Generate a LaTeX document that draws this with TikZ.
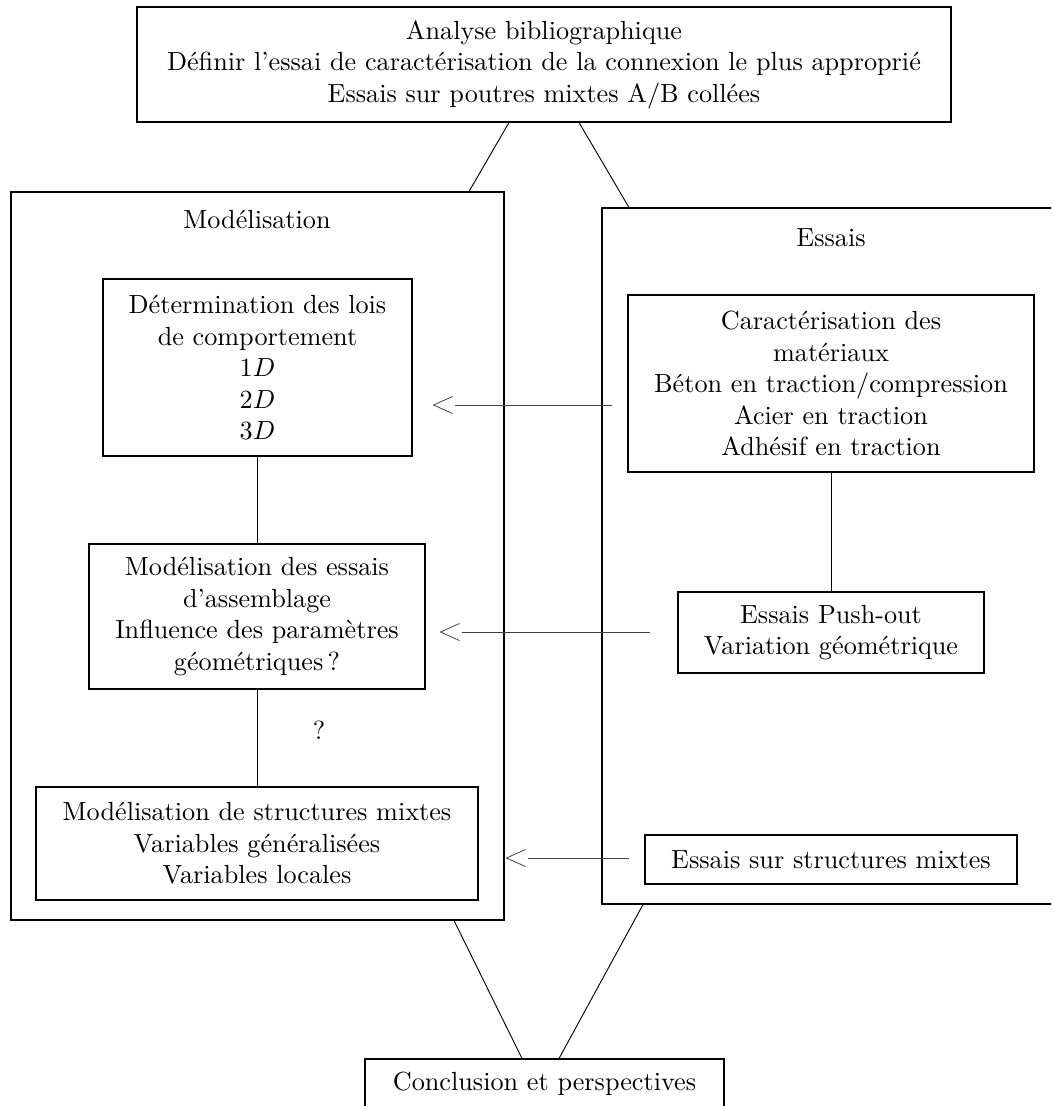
\documentclass[tikz,border=0pt]{standalone}
\usepackage{fontspec}
\usetikzlibrary{calc}
\def\u{0.3817pt}
\tikzset{
  bx/.style 2 args={draw, align=center, inner sep=0pt, minimum width=#1*\u, minimum height=#2*\u},
  lbl/.style={inner sep=1pt},
  chev/.style={inner sep=0pt, minimum width=18*\u, minimum height=16*\u},
  conn/.style={draw, line width=0.35pt},
  arr/.style={draw, line width=0.3pt, black!75}
}
\begin{document}
\begin{tikzpicture}[x=0.3817pt,y=-0.3817pt]
\useasboundingbox (0,0) rectangle (1051,1106);
\clip (0,0) rectangle (1051,1106);
% top
\node[bx={814}{115}] (top) at (544,64.5) {Analyse bibliographique\\D\'efinir l’essai de caract\'erisation de la connexion le plus appropri\'e\\Essais sur poutres mixtes A/B coll\'ees};
% outer boxes
\node[bx={493}{728}] (mod) at (257.5,556) {};
\node[lbl] (modl) at (257,220) {Modélisation};
\node[bx={458}{696}] (ess) at (831,556) {};
\node[lbl] (essl) at (831,238) {Essais};
% left column
\node[bx={309}{177}] (det) at (257.5,367.5) {Détermination des lois\\de comportement\\$1D$\\$2D$\\$3D$};
\node[bx={336}{145}] (mde) at (257,616.5) {Modélisation des essais\\d’assemblage\\Influence des paramètres\\géométriques\,?};
\node[bx={442}{113}] (mds) at (257,843.5) {Modélisation de structures mixtes\\Variables généralisées\\Variables locales};
\node[lbl] (q) at (319,730) {?};
% right column
\node[bx={406}{177}] (car) at (831,383.5) {Caractérisation des\\matériaux\\Béton en traction/compression\\Acier en traction\\Adhésif en traction};
\node[bx={306}{81}] (pso) at (831,632.5) {Essais Push-out\\Variation géométrique};
\node[bx={372}{49}] (esm) at (831,859.5) {Essais sur structures mixtes};
% conclusion
\node[bx={359}{49}] (con) at (544.5,1083.5) {Conclusion et perspectives};
% vertical links
\draw[conn] (det.south) -- (det.south |- mde.north);
\draw[conn] (mde.south) -- (mde.south |- mds.north);
\draw[conn] (car.south) -- (car.south |- pso.north);
% slanted links
\draw[conn] ([xshift=-35*\u]top.south) -- ([xshift=211.5*\u]mod.north);
\draw[conn] ([xshift=35*\u]top.south) -- ([xshift=-202*\u]ess.north);
\draw[conn] ([xshift=196.5*\u]mod.south) -- ([xshift=-22.5*\u]con.north);
\draw[conn] ([xshift=-188*\u]ess.south) -- ([xshift=14.5*\u]con.north);
% arrows
\node[chev] (a1) at (443,405) {};
\draw[arr] (a1.north east) -- (a1.west) -- (a1.south east);
\coordinate (e1) at (612,405);
\draw[arr] ([xshift=2*\u]a1.east) -- (e1);
\node[chev] (a2) at (450,632) {};
\draw[arr] (a2.north east) -- (a2.west) -- (a2.south east);
\coordinate (e2) at (650,632);
\draw[arr] ([xshift=2*\u]a2.east) -- (e2);
\node[chev] (a3) at (516,858) {};
\draw[arr] (a3.north east) -- (a3.west) -- (a3.south east);
\coordinate (e3) at (629,858);
\draw[arr] ([xshift=2*\u]a3.east) -- (e3);
\end{tikzpicture}
\end{document}
